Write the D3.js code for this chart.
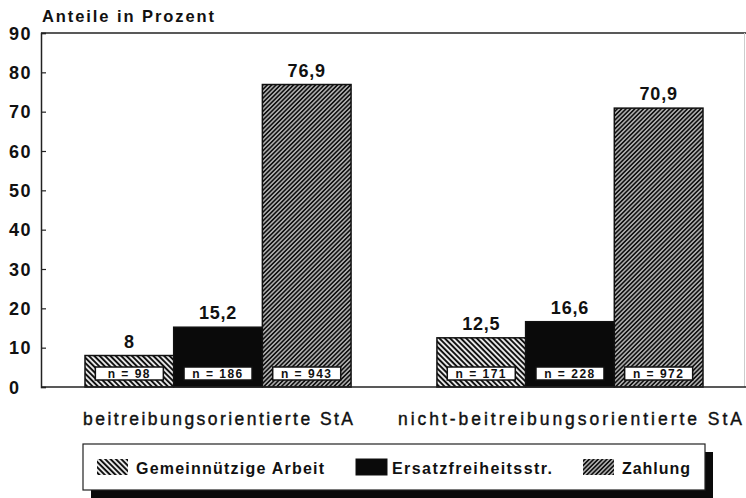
<!DOCTYPE html>
<html>
<head>
<meta charset="utf-8">
<script src="https://cdn.jsdelivr.net/npm/d3@7"></script>
<style>
  body { margin: 0; background: #fff; }
  text { font-family: "Liberation Sans", Arial, sans-serif; font-weight: bold; fill: #111; }
</style>
</head>
<body>
<div id="root"></div>
<script>
// data
const groups = ["beitreibungsorientierte StA", "nicht-beitreibungsorientierte StA"];
const series = ["Gemeinnützige Arbeit", "Ersatzfreiheitsstr.", "Zahlung"];
const valuesBeitreibung = [8, 15.2, 76.9];
const valuesNichtBeitreibung = [12.5, 16.6, 70.9];
const nBeitreibung = [98, 186, 943];
const nNichtBeitreibung = [171, 228, 972];
const yTicks = [0, 10, 20, 30, 40, 50, 60, 70, 80, 90];

const rows = [];
[valuesBeitreibung, valuesNichtBeitreibung].forEach((vals, gi) => {
	const ns = gi === 0 ? nBeitreibung : nNichtBeitreibung;
	vals.forEach((v, si) => rows.push({ group: groups[gi], series: series[si], value: v, n: ns[si] }));
});

const width = 746;
const height = 498;
const plotLeft = 41, plotTop = 33, plotBottom = 387;

const svg = d3.select("#root").append("svg")
	.attr("width", width)
	.attr("height", height);

// hatch patterns
const defs = svg.append("defs");
const addHatch = (id, size, stroke, angle) => {
	const p = defs.append("pattern")
		.attr("id", id)
		.attr("patternUnits", "userSpaceOnUse")
		.attr("width", size)
		.attr("height", size)
		.attr("patternTransform", `rotate(${angle})`);
	p.append("rect").attr("width", size).attr("height", size).attr("fill", "#fff");
	p.append("line")
		.attr("x1", size / 2).attr("y1", 0)
		.attr("x2", size / 2).attr("y2", size)
		.attr("stroke", "#111")
		.attr("stroke-width", stroke);
};
addHatch("hatchBack", 3.8, 2.1, -45);
addHatch("hatchFwd", 3.1, 2.1, 45);

const fills = {
	"Gemeinnützige Arbeit": "url(#hatchBack)",
	"Ersatzfreiheitsstr.": "#0a0a0a",
	"Zahlung": "url(#hatchFwd)"
};

// scales
const y = d3.scaleLinear().domain([0, 90]).range([plotBottom, plotTop]);
const x0 = d3.scaleBand().domain(groups).range([85, 703]).paddingInner(0.244);
const x1 = d3.scaleBand().domain(series).range([0, x0.bandwidth()]);

const fmt = v => String(v).replace(".", ",");

// frame
svg.append("line")
	.attr("x1", plotLeft).attr("x2", width).attr("y1", plotTop).attr("y2", plotTop)
	.attr("stroke", "#222").attr("stroke-width", 1.5);
svg.append("line")
	.attr("x1", width - 1.5).attr("x2", width - 1.5).attr("y1", plotTop).attr("y2", plotBottom)
	.attr("stroke", "#ccc").attr("stroke-width", 1);

// y axis
const yAxis = svg.append("g")
	.attr("transform", `translate(${plotLeft},0)`)
	.call(d3.axisRight(y).tickValues(yTicks).tickSize(5).tickFormat(""));
yAxis.select(".domain").attr("stroke", "#222").attr("stroke-width", 1.5);
yAxis.selectAll(".tick line").attr("stroke", "#222").attr("stroke-width", 1.2);

svg.selectAll(".ylabel")
	.data(yTicks).enter()
	.append("text")
	.attr("class", "ylabel")
	.attr("x", 9)
	.attr("y", d => y(d) + 6.5)
	.style("font-size", "18px")
	.style("letter-spacing", "1.5px")
	.text(d => d);

svg.append("text")
	.attr("x", 42)
	.attr("y", 22)
	.style("font-size", "16.5px")
	.attr("textLength", 172)
	.attr("lengthAdjust", "spacing")
	.text("Anteile in Prozent");

// bars
const bars = svg.selectAll(".bar")
	.data(rows).enter()
	.append("g")
	.attr("class", "bar")
	.attr("transform", d => `translate(${x0(d.group) + x1(d.series)},0)`);

bars.append("rect")
	.attr("x", 0)
	.attr("y", d => y(d.value))
	.attr("width", x1.bandwidth())
	.attr("height", d => y(0) - y(d.value))
	.attr("fill", d => fills[d.series])
	.attr("stroke", "#111")
	.attr("stroke-width", 1.5);

bars.append("text")
	.attr("x", x1.bandwidth() / 2)
	.attr("y", d => y(d.value) - 8)
	.attr("text-anchor", "middle")
	.style("font-size", "18px")
	.style("letter-spacing", "0.8px")
	.text(d => fmt(d.value));

// n boxes
const boxW = 68, boxH = 13;
bars.append("rect")
	.attr("x", x1.bandwidth() / 2 - boxW / 2)
	.attr("y", y(0) - 20)
	.attr("width", boxW)
	.attr("height", boxH)
	.attr("fill", "#fff")
	.attr("stroke", "#111")
	.attr("stroke-width", 1.5);

bars.append("text")
	.attr("x", x1.bandwidth() / 2)
	.attr("y", y(0) - 9)
	.attr("text-anchor", "middle")
	.style("font-size", "12px")
	.style("letter-spacing", "1.5px")
	.text(d => `n = ${d.n}`);

// baseline
svg.append("line")
	.attr("x1", plotLeft).attr("x2", width).attr("y1", plotBottom).attr("y2", plotBottom)
	.attr("stroke", "#222").attr("stroke-width", 1.5);

// group labels
const groupLen = [270, 344];
svg.selectAll(".glabel")
	.data(groups).enter()
	.append("text")
	.attr("class", "glabel")
	.attr("x", d => x0(d) + x0.bandwidth() / 2)
	.attr("y", 425)
	.attr("text-anchor", "middle")
	.attr("textLength", (d, i) => groupLen[i])
	.attr("lengthAdjust", "spacing")
	.style("font-size", "17.5px")
	.style("font-weight", "normal")
	.style("stroke", "#111")
	.style("stroke-width", "0.4px")
	.text(d => d);

// legend
const legend = svg.append("g").attr("transform", "translate(83,444)");
legend.append("rect")
	.attr("x", 8).attr("y", 8).attr("width", 622).attr("height", 46)
	.attr("fill", "#0a0a0a");
legend.append("rect")
	.attr("x", 0).attr("y", 0).attr("width", 622).attr("height", 46)
	.attr("fill", "#fff").attr("stroke", "#222").attr("stroke-width", 1.2);

const legendX = [14, 273, 500];
const legendLen = [188, 160, 68];
const items = legend.selectAll(".item")
	.data(series).enter()
	.append("g")
	.attr("class", "item")
	.attr("transform", (d, i) => `translate(${legendX[i]},15)`);
items.append("rect")
	.attr("width", 31).attr("height", 16)
	.attr("fill", d => fills[d])
	.attr("stroke", d => d === "Ersatzfreiheitsstr." ? "#111" : "none");
items.append("text")
	.attr("x", (d, i) => i === 1 ? 36 : 39)
	.attr("y", 14.5)
	.attr("textLength", (d, i) => legendLen[i])
	.attr("lengthAdjust", "spacing")
	.style("font-size", "16px")
	.text(d => d);
</script>
</body>
</html>
